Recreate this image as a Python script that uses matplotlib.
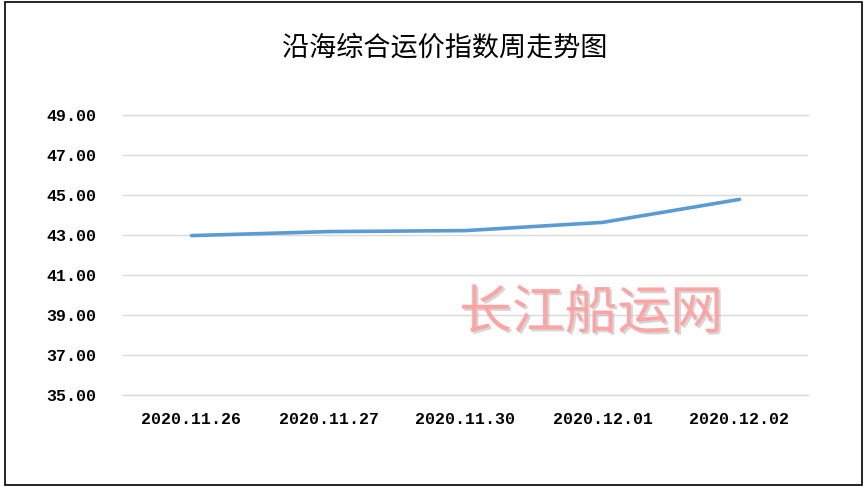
import matplotlib
matplotlib.use("Agg")
import matplotlib.pyplot as plt
from matplotlib.patches import Rectangle
import matplotlib.patheffects as pe

title = "沿海综合运价指数周走势图"
dates = ["2020.11.26", "2020.11.27", "2020.11.30", "2020.12.01", "2020.12.02"]
values = [42.97, 43.17, 43.22, 43.63, 44.78]
yticks = [35, 37, 39, 41, 43, 45, 47, 49]
watermark = "长江船运网"

W, H = 865, 487
fig = plt.figure(figsize=(W / 100, H / 100), dpi=100)
fig.patch.set_facecolor("white")

ax = fig.add_axes([123 / W, 1 - 395 / H, (808 - 123) / W, (395 - 115) / H])
x = list(range(len(dates)))
ax.plot(x, values, color="#5B9BD5", linewidth=2.6, solid_capstyle="round",
        solid_joinstyle="round", zorder=3)

ax.set_xlim(-0.5, len(dates) - 0.5)
ax.set_ylim(35, 49)
ax.set_yticks(yticks)
ax.set_yticklabels([f"{v:.2f}" for v in yticks])
ax.set_xticks(x)
ax.set_xticklabels(dates)
ax.grid(axis="y", color="#D9D9D9", linewidth=1.0)
ax.axhline(yticks[0], color="#D9D9D9", linewidth=1.0, clip_on=False, zorder=1)
ax.axhline(yticks[-1], color="#D9D9D9", linewidth=1.0, clip_on=False, zorder=1)
ax.set_axisbelow(True)
for s in ax.spines.values():
    s.set_visible(False)
ax.tick_params(axis="both", length=0, labelsize=12, colors="black")
ax.tick_params(axis="y", pad=19)
ax.tick_params(axis="x", pad=12)
for lab in ax.get_xticklabels() + ax.get_yticklabels():
    lab.set_family(["Liberation Mono", "DejaVu Sans Mono"])
    lab.set_weight("bold")

fig.text(445 / W, 1 - 48 / H, title, ha="center", va="center", fontsize=19.5,
         family=["Noto Sans CJK SC", "DejaVu Sans"], color="black")

ax.text(591 / W, 1 - 313 / H, watermark, transform=fig.transFigure,
        ha="center", va="center", fontsize=38,
        family=["Noto Sans CJK SC", "DejaVu Sans"], color="#FFA3A3",
        zorder=4,
        path_effects=[pe.withSimplePatchShadow(offset=(1.5, -1.5),
                                               shadow_rgbFace="#BBBBBB", alpha=0.6)])

fig.patches.append(Rectangle((4.5 / W, 1 - 484.5 / H), (862 - 4.5) / W, (484.5 - 1.5) / H,
                             transform=fig.transFigure, fill=False,
                             edgecolor="black", linewidth=1.2))

fig.savefig("out.png", dpi=100, facecolor="white")
